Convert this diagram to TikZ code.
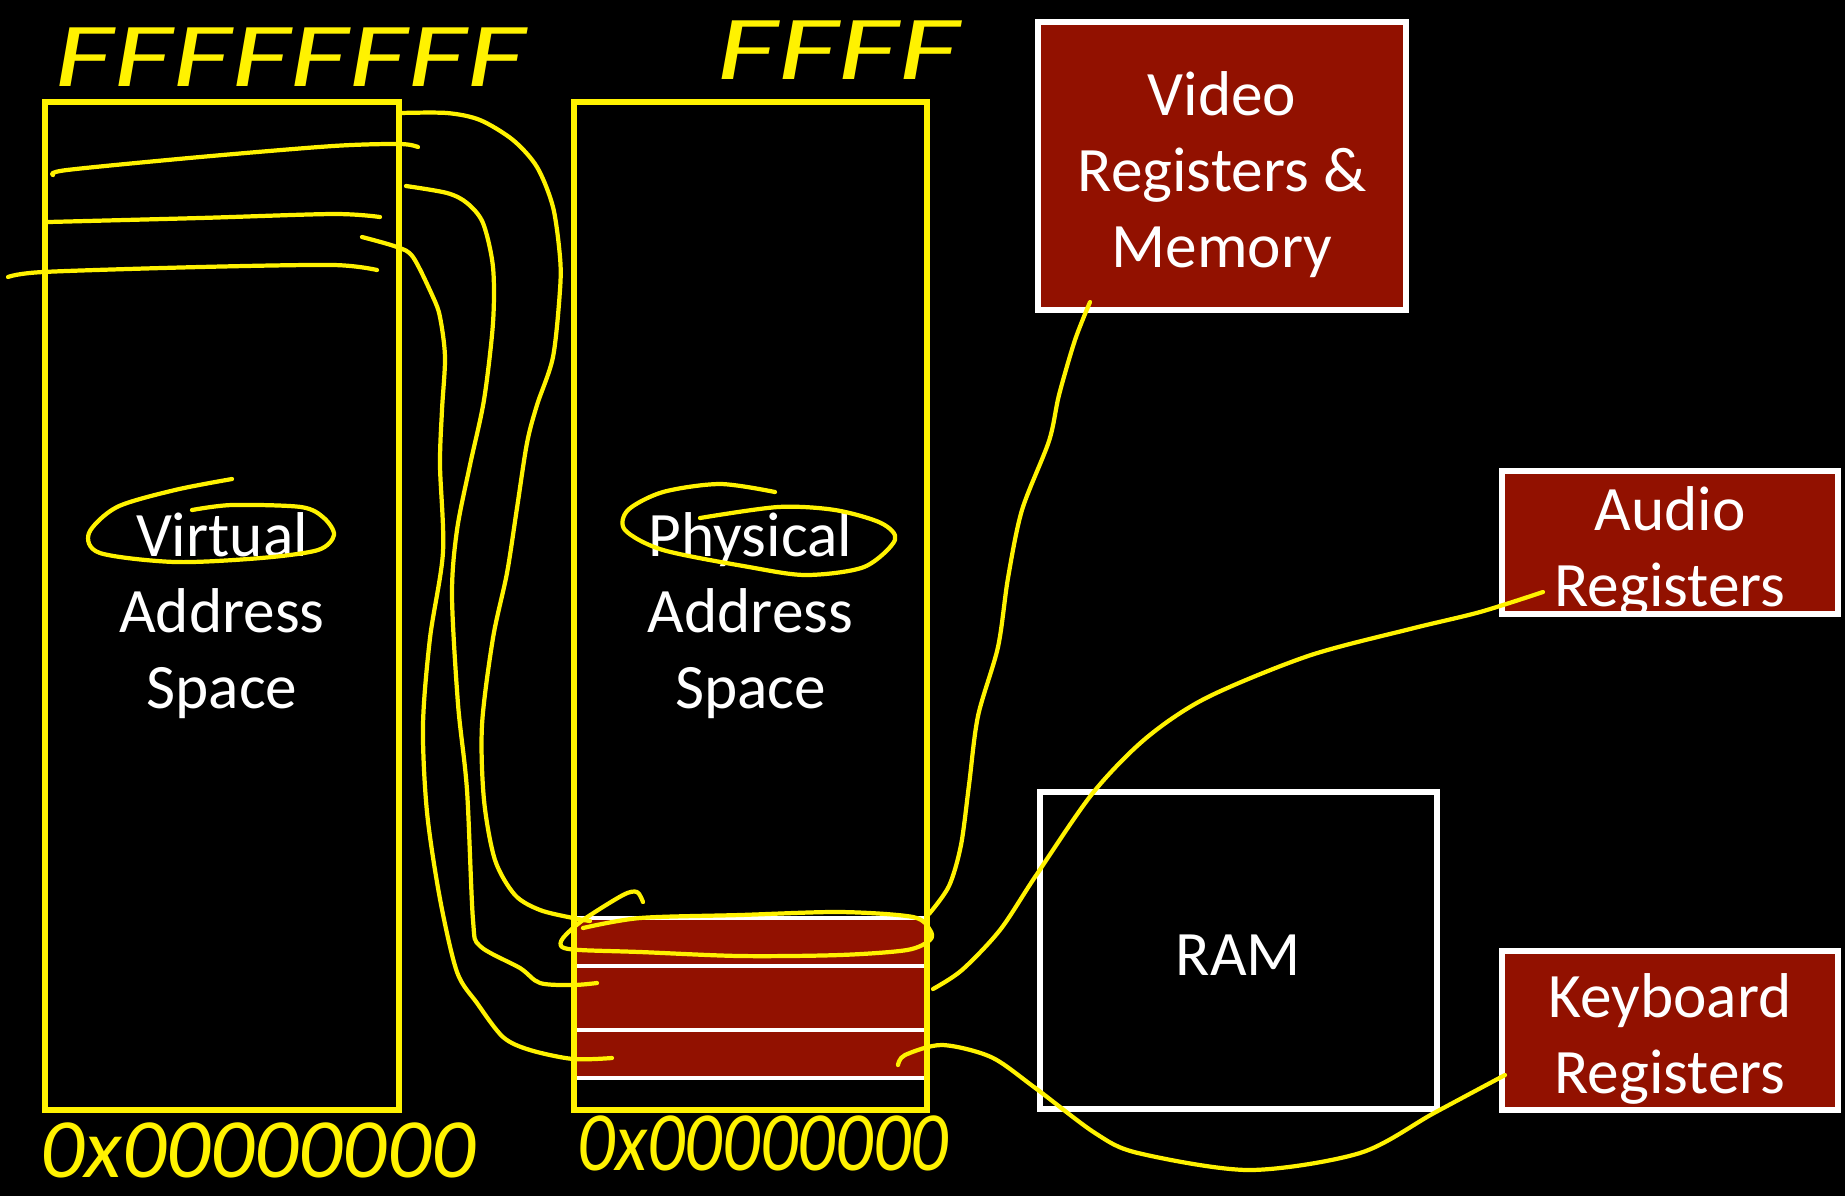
\documentclass[tikz,border=0pt]{standalone}
\usepackage{fontspec}
\setmainfont{Carlito}
\usepackage{xcolor}
\usepackage{graphicx}
\usepackage{tikz}
\definecolor{regred}{RGB}{146,17,0}

\begin{document}
\begin{tikzpicture}[x=0.01cm, y=-0.01cm,
  every node/.style={font=\fontsize{18}{21.6}\selectfont, text=white, align=center, inner sep=0pt},
  addrspace/.style={draw=yellow, line width=1.7pt, minimum width=3.53cm, minimum height=10.08cm},
  device/.style={draw=white, line width=1.7pt, fill=regred},
  band/.style={draw=white, line width=1.1pt, fill=regred, minimum width=3.53cm},
  ink/.style={draw=yellow, line width=1.2pt, line cap=round, line join=round},
  hand/.style={text=yellow, font=\fontsize{24}{24}\selectfont\itshape}]
\fill[black] (0,0) rectangle (1845,1196);
\useasboundingbox (0,0) rectangle (1845,1196);

% mapped region of physical memory
\node[band, minimum height=0.48cm] (band1) at (750.5,942) {};
\node[band, minimum height=0.64cm] (band2) at (750.5,998) {};
\node[band, minimum height=0.48cm] (band3) at (750.5,1054) {};

\node[addrspace] (virt) at (222,606) {};
\node[addrspace] (phys) at (750.5,606) {};
\node at ([yshift=-2.7pt]virt) {Virtual\\Address\\Space};
\node at ([yshift=-2.7pt]phys) {Physical\\Address\\Space};

\node[device, minimum width=3.68cm, minimum height=2.88cm] (video) at (1222,166) {};
\node[device, minimum width=3.36cm, minimum height=1.43cm] (audio) at (1670,542.5) {};
\node[draw=white, line width=1.7pt, minimum width=3.97cm, minimum height=3.17cm] (ram) at (1238.5,950.5) {};
\node[device, minimum width=3.36cm, minimum height=1.59cm] (kbd) at (1670,1030.5) {};
\node at ([yshift=-2.4pt]video) {Video\\Registers \&\\Memory};
\node at ([yshift=-2.6pt]audio) {Audio\\Registers};
\node at ([yshift=-1.4pt]ram) {RAM};
\node at ([yshift=-2.4pt]kbd) {Keyboard\\Registers};

% handwritten addresses
\node[hand, font=\fontsize{26}{26}\selectfont\itshape] (vtop) at (290,57) {\scalebox{1.4}[1]{FFFFFFFF}};
\node[hand, font=\fontsize{26}{26}\selectfont\itshape] (ptop) at (838,50) {\scalebox{1.45}[1]{FFFF}};
\node[hand] (vbot) at (258,1150) {\scalebox{1.03}[1]{0x00000000}};
\node[hand] (pbot) at (763,1143) {\scalebox{0.88}[1]{0x00000000}};

% pages in the virtual space
\draw[ink] plot[smooth] coordinates {(53,175) (67,170) (200,157) (333,146) (400,144) (418,147)};
\draw[ink] plot[smooth] coordinates {(48,222) (200,218) (333,214) (380,217)};
\draw[ink] plot[smooth] coordinates {(8,277) (43,272) (200,267) (333,265) (377,270)};

\coordinate (a1) at (400,113); \coordinate (b1) at (590,921);
\coordinate (a2) at (406,186); \coordinate (b2) at (597,983);
\coordinate (a3) at (362,237); \coordinate (b3) at (612,1058);
\coordinate (c1) at (929,914); \coordinate (d1) at (1090,302);
\coordinate (c2) at (933,989); \coordinate (d2) at (1543,592);
\coordinate (c3) at (898,1065); \coordinate (d3) at (1505,1075);

% virtual -> physical
\draw[ink] plot[smooth] coordinates {(a1) (447,113) (480,120) (513,140) (537,167) (553,207) (560,257) (560,290) (553,357) (537,405) (527,443) (517,508) (507,573) (493,638) (482,725) (484,800) (495,860) (515,895) (540,910) (573,918) (b1)};
\draw[ink] plot[smooth] coordinates {(a2) (447,193) (467,203) (483,223) (493,267) (493,323) (484,400) (470,465) (457,530) (452,595) (458,704) (467,790) (473,920) (480,946) (520,968) (540,983) (573,985) (b2)};
\draw[ink] plot[smooth] coordinates {(a3) (397,247) (413,257) (433,297) (440,317) (445,357) (442,410) (440,465) (443,552) (430,638) (423,725) (427,812) (440,899) (457,972) (477,1003) (503,1037) (530,1050) (573,1059) (b3)};

% physical -> devices
\draw[ink] plot[smooth] coordinates {(c1) (949,886) (961,845) (969,785) (978,716) (998,647) (1008,578) (1022,510) (1049,441) (1059,395) (1075,340) (d1)};
\draw[ink] plot[smooth] coordinates {(c2) (962,970) (1000,930) (1035,877) (1092,794) (1145,739) (1206,698) (1308,656) (1410,629) (1480,612) (d2)};
\draw[ink] plot[smooth] coordinates {(c3) (905,1055) (942,1045) (991,1057) (1034,1087) (1095,1133) (1138,1153) (1249,1170) (1360,1153) (1434,1113) (d3)};

% circled words and band
\draw[ink] plot[smooth] coordinates {(643,902) (637,892) (623,895) (583,920) (563,938) (562,947) (580,950) (640,952) (740,956) (840,955) (907,950) (930,940) (930,930) (913,917) (840,912) (740,915) (640,918) (583,928)};
\draw[ink] plot[smooth] coordinates {(232,479) (175,490) (117,507) (89,533) (100,553) (175,562) (261,558) (318,550) (334,535) (324,518) (301,507) (232,505) (192,510)};
\draw[ink] plot[smooth] coordinates {(775,492) (720,484) (663,492) (628,510) (625,530) (663,550) (749,567) (806,575) (864,567) (895,540) (881,523) (835,510) (778,507) (700,518)};
\end{tikzpicture}
\end{document}
